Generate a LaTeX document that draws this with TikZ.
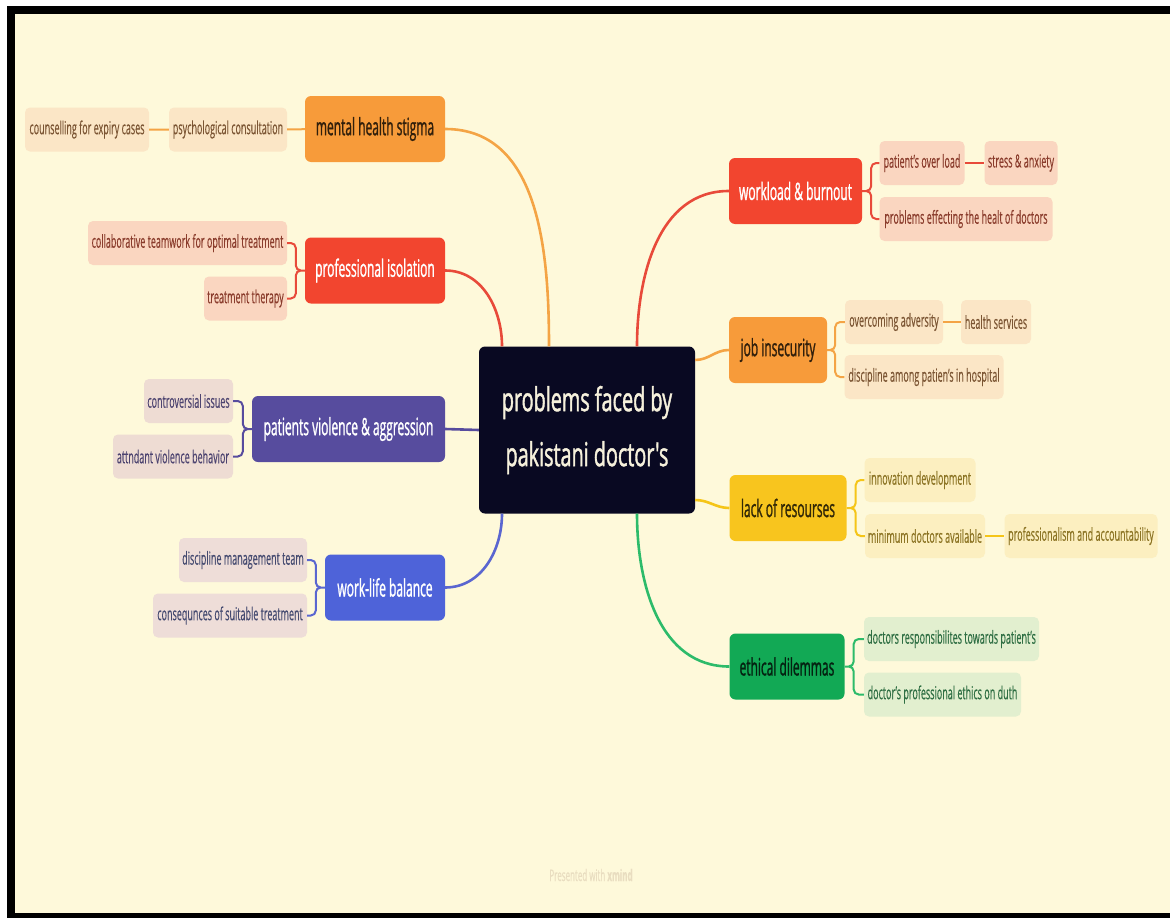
\documentclass[tikz,border=0pt]{standalone}
\usepackage{fontspec}
\setmainfont{Open Sans}[FakeStretch=0.5, FakeBold=0.3]
\newfontfamily\hubfont{Open Sans}[FakeStretch=0.6, FakeBold=1.2]
\newfontfamily\topicfont{Open Sans}[FakeStretch=0.5, FakeBold=1.0]
\usetikzlibrary{positioning}

\definecolor{paper}{HTML}{FEF9DA}
\definecolor{hubc}{HTML}{090922}
\definecolor{hubtext}{HTML}{F6F1DC}
\definecolor{orm}{HTML}{F79B3A}
\definecolor{orl}{HTML}{F4A445}
\definecolor{ors}{HTML}{FBE6C6}
\definecolor{ort}{HTML}{7B5533}
\definecolor{rdm}{HTML}{F2452F}
\definecolor{rdl}{HTML}{E84A3A}
\definecolor{rds}{HTML}{FAD6C0}
\definecolor{rdt}{HTML}{8A3C2C}
\definecolor{pum}{HTML}{574C9E}
\definecolor{pus}{HTML}{EEDCD3}
\definecolor{put}{HTML}{4D4470}
\definecolor{blm}{HTML}{4E63D9}
\definecolor{bll}{HTML}{5A66D0}
\definecolor{bls}{HTML}{EEDDD8}
\definecolor{blt}{HTML}{444A70}
\definecolor{yem}{HTML}{F8C51E}
\definecolor{yel}{HTML}{F5C518}
\definecolor{yes}{HTML}{FCEFC0}
\definecolor{yet}{HTML}{8C7424}
\definecolor{grm}{HTML}{12A955}
\definecolor{grl}{HTML}{2DBB6A}
\definecolor{grs}{HTML}{E2EFCF}
\definecolor{grt}{HTML}{2E6E43}
\definecolor{foot}{HTML}{E9DDC0}

\begin{document}
\begin{tikzpicture}[
				x=1pt, y=-1pt,
				hub/.style={
					rectangle,
					fill=hubc,
					rounded corners=6pt,
					text=hubtext,
					font=\hubfont\fontsize{33}{55}\selectfont,
					align=center,
					minimum width=216pt,
					minimum height=167pt
					},
				topic/.style={
					rectangle,
					rounded corners=6pt,
					minimum height=66pt,
					inner sep=2pt,
					font=\topicfont\fontsize{24}{28}\selectfont
					},
				sub/.style={
					rectangle,
					rounded corners=5pt,
					minimum height=44pt,
					inner sep=2pt,
					font=\fontsize{18}{21}\selectfont
					},
				trunk/.style={
					draw,
					line width=2.6pt
					},
				brace/.style={
					draw,
					line width=2pt,
					rounded corners=5pt
					}]
			    % Background and frame
			    \useasboundingbox (0,0) rectangle (1170,918);
			    \fill[white] (0,0) rectangle (1170,918);
			    \fill[black] (7,6) rectangle (1170,918);
			    \fill[paper] (15,14) rectangle (1170,913);

			    % Place nodes
			    \node [hub] (hub) at (587,430) {problems faced by\\pakistani doctor's};

			    \node [topic, fill=orm, text=black!80!orm, minimum width=140pt] (stigma) at (375,129) {mental health stigma};
			    \node [topic, fill=rdm, text=white, minimum width=140pt] (isol) at (375,270.5) {professional isolation};
			    \node [topic, fill=pum, text=white, minimum width=193pt] (viol) at (348.5,429) {patients violence \& aggression};
			    \node [topic, fill=blm, text=white, minimum width=120pt] (wlb) at (385,587.5) {work-life balance};
			    \node [topic, fill=rdm, text=white, minimum width=133pt] (work) at (795.5,191) {workload \& burnout};
			    \node [topic, fill=orm, text=black!80!orm, minimum width=98pt] (job) at (778,350) {job insecurity};
			    \node [topic, fill=yem, text=black!80!yem, minimum width=117pt] (lack) at (788,508) {lack of resourses};
			    \node [topic, fill=grm, text=black!80!grm, minimum width=115pt] (ethic) at (787,666.5) {ethical dilemmas};

			    \node [sub, fill=ors, text=ort, minimum width=118pt] (psych) at (228,129.5) {psychological consultation};
			    \node [sub, fill=ors, text=ort, minimum width=124pt] (counsel) at (87,129.5) {counselling for expiry cases};
			    \node [sub, fill=rds, text=rdt, minimum width=199pt] (collab) at (187.5,243) {collaborative teamwork for optimal treatment};
			    \node [sub, fill=rds, text=rdt, minimum width=83pt] (therapy) at (245.5,298.5) {treatment therapy};
			    \node [sub, fill=pus, text=put, minimum width=89pt] (contro) at (188.5,401) {controversial issues};
			    \node [sub, fill=pus, text=put, minimum width=120pt] (attn) at (173,456.5) {attndant violence behavior};
			    \node [sub, fill=bls, text=blt, minimum width=128pt] (discmgmt) at (243,560) {discipline management team};
			    \node [sub, fill=bls, text=blt, minimum width=154pt] (conseq) at (230,615.5) {consequnces of suitable treatment};

			    \node [sub, fill=rds, text=rdt, minimum width=85pt] (overload) at (922,163) {patient's over load};
			    \node [sub, fill=rds, text=rdt, minimum width=73pt] (stress) at (1021,163) {stress \& anxiety};
			    \node [sub, fill=rds, text=rdt, minimum width=173pt] (healt) at (966,219) {problems effecting the healt of doctors};
			    \node [sub, fill=ors, text=ort, minimum width=98pt] (overcome) at (894,322) {overcoming adversity};
			    \node [sub, fill=ors, text=ort, minimum width=70pt] (hserv) at (996,322) {health services};
			    \node [sub, fill=ors, text=ort, minimum width=159pt] (discip) at (924,377) {discipline among patien's in hospital};
			    \node [sub, fill=yes, text=yet, minimum width=111pt] (innov) at (920,480) {innovation development};
			    \node [sub, fill=yes, text=yet, minimum width=120pt] (mindoc) at (925,536) {minimum doctors available};
			    \node [sub, fill=yes, text=yet, minimum width=153pt] (profacc) at (1081,536) {professionalism and accountability};
			    \node [sub, fill=grs, text=grt, minimum width=175pt] (respons) at (951.5,639) {doctors responsibilites towards patient's};
			    \node [sub, fill=grs, text=grt, minimum width=157pt] (duty) at (942.5,694.5) {doctor's professional ethics on duth};

			    \node [text=foot, font=\fontsize{16}{18}\selectfont] (credit) at (591,875) {Presented with \textbf{xmind}};

			    % Draw edges
			    \path [trunk, orl] (stigma.east) to[out=0, in=90] ([xshift=-38pt]hub.north);
			    \path [trunk, rdl] (isol.east) to[out=0, in=90] ([xshift=-85pt]hub.north);
			    \path [trunk, pum] (viol.east) -- (hub.west);
			    \path [trunk, bll] (wlb.east) to[out=0, in=-90] ([xshift=-85pt]hub.south);
			    \path [trunk, rdl] ([xshift=50pt]hub.north) to[out=90, in=180] (work.west);
			    \path [trunk, orl] ([yshift=70pt]hub.east) to[out=0, in=180] (job.west);
			    \path [trunk, yel] ([yshift=-70pt]hub.east) to[out=0, in=180] (lack.west);
			    \path [trunk, grl] ([xshift=50pt]hub.south) to[out=-90, in=180] (ethic.west);

			    \path [brace, orl] (counsel) -- (psych) -- (stigma);
			    \path [brace, rdl] (isol.west) -- ++(-9,0) |- (collab.east) (isol.west) -- ++(-9,0) |- (therapy.east);
			    \path [brace, pum] (viol.west) -- ++(-9,0) |- (contro.east) (viol.west) -- ++(-9,0) |- (attn.east);
			    \path [brace, bll] (wlb.west) -- ++(-9,0) |- (discmgmt.east) (wlb.west) -- ++(-9,0) |- (conseq.east);
			    \path [brace, rdl] (work.east) -- ++(9,0) |- (overload.west) (work.east) -- ++(9,0) |- (healt.west);
			    \path [brace, rdl] (overload) -- (stress);
			    \path [brace, orl] (job.east) -- ++(8,0) |- (overcome.west) (job.east) -- ++(8,0) |- (discip.west);
			    \path [brace, orl] (overcome) -- (hserv);
			    \path [brace, yel] (lack.east) -- ++(9,0) |- (innov.west) (lack.east) -- ++(9,0) |- (mindoc.west);
			    \path [brace, yel] (mindoc) -- (profacc);
			    \path [brace, grl] (ethic.east) -- ++(9,0) |- (respons.west) (ethic.east) -- ++(9,0) |- (duty.west);
\end{tikzpicture}
\end{document}
